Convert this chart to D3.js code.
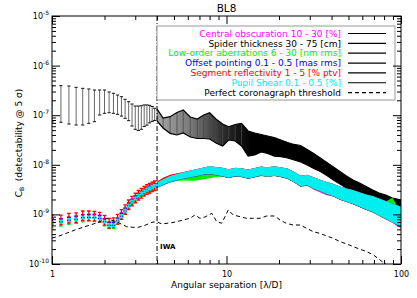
<!DOCTYPE html>
<html>
<head>
<meta charset="utf-8">
<script src="https://cdn.jsdelivr.net/npm/d3@7"></script>
<style>
  body { margin: 0; background: #fff; }
  svg { display: block; font-family: "DejaVu Sans", Verdana, sans-serif; }
</style>
</head>
<body>
<svg width="417" height="298"></svg>
<script>
// sampling below the IWA (lambda/D)
const nearX = [1, 1.125, 1.25, 1.375, 1.5, 1.625, 1.75, 1.875, 2, 2.125, 2.25, 2.375,
  2.5, 2.625, 2.75, 2.875, 3, 3.125, 3.25, 3.375, 3.5, 3.625, 3.75, 3.875];
// coarser sampling beyond the IWA
const farX = [4, 4.33, 4.75, 5.2, 5.65, 6.2, 6.8, 7.4, 8, 8.7, 9.5, 10.3, 11.2, 12.2, 13.3,
  14.5, 15.8, 17.2, 18.8, 20.5, 22.4, 24.4, 26.6, 29, 31.6, 34.5, 37.6, 41, 44.7, 48.7,
  53.1, 57.9, 63.1, 68.8, 75, 81.8, 89.2, 95, 100];

// spider thickness: error bar limits
const spiderNearHi = [3.95e-7, 3.94e-7, 3.88e-7, 3.65e-7, 3.48e-7, 3.38e-7, 3.22e-7, 3.22e-7,
  3.22e-7, 2.94e-7, 2.76e-7, 2.55e-7, 2.36e-7, 2.09e-7, 1.87e-7, 1.68e-7, 1.53e-7, 1.53e-7,
  1.55e-7, 1.61e-7, 1.61e-7, 1.58e-7, 1.5e-7, 1.38e-7];
const spiderNearLo = [7.3e-8, 7.2e-8, 6.65e-8, 6.34e-8, 6.34e-8, 6.86e-8, 7.41e-8, 1.01e-7,
  1.09e-7, 1.12e-7, 1.09e-7, 1.04e-7, 9.6e-8, 8.65e-8, 7.76e-8, 6.05e-8, 5.19e-8, 4.9e-8,
  5.2e-8, 5.9e-8, 6.3e-8, 7.0e-8, 7.5e-8, 7.8e-8];
const spiderFarHi = [1.33e-7, 8.79e-8, 9.33e-8, 1.13e-7, 1.27e-7, 9.2e-8, 8.38e-8, 1.01e-7,
  1.12e-7, 8.38e-8, 6.65e-8, 5.86e-8, 6.49e-8, 6.87e-8, 4.8e-8, 4.38e-8, 4.08e-8, 3.81e-8,
  3.55e-8, 3.16e-8, 2.82e-8, 2.57e-8, 2.45e-8, 2.03e-8, 1.69e-8, 1.37e-8, 1.11e-8, 9.03e-9,
  7.33e-9, 5.95e-9, 4.94e-9, 4.3e-9, 3.65e-9, 3.1e-9, 2.7e-9, 2.46e-9, 2.14e-9, 2.04e-9, 1.95e-9];
const spiderFarLo = [7.64e-8, 5.52e-8, 4.31e-8, 3.99e-8, 4.38e-8, 3.63e-8, 3.39e-8, 3.39e-8,
  3.31e-8, 2.75e-8, 2.39e-8, 3.16e-8, 3.02e-8, 2.39e-8, 1.5e-8, 1.58e-8, 1.81e-8, 1.69e-8,
  1.5e-8, 1.46e-8, 1.37e-8, 1.25e-8, 1.14e-8, 9.9e-9, 8.42e-9, 7.33e-9, 6.09e-9, 4.94e-9,
  4.1e-9, 3.41e-9, 2.96e-9, 2.7e-9, 2.46e-9, 2.14e-9, 1.95e-9, 1.78e-9, 1.58e-9, 1.55e-9, 1.48e-9];

// the other five errors: central values
const obscNear = [7.71e-10, 7.71e-10, 8.33e-10, 8.73e-10, 9.29e-10, 9.43e-10, 9.43e-10, 9.0e-10,
  7.71e-10, 6.61e-10, 6.61e-10, 7.96e-10, 1.0e-9, 1.26e-9, 1.6e-9, 1.89e-9, 2.21e-9, 2.5e-9,
  2.74e-9, 3.01e-9, 3.25e-9, 3.46e-9, 3.68e-9, 3.86e-9];
const lowOrderNear = [5.83e-10, 6.31e-10, 6.81e-10, 7.14e-10, 7.71e-10, 7.96e-10, 7.96e-10,
  7.48e-10, 6.4e-10, 5.65e-10, 5.65e-10, 6.81e-10, 8.73e-10, 1.14e-9, 1.43e-9, 1.72e-9, 2.01e-9,
  2.28e-9, 2.54e-9, 2.79e-9, 3.01e-9, 3.2e-9, 3.41e-9, 3.57e-9];
const pointingNear = [7.5e-10, 7.55e-10, 8.15e-10, 8.55e-10, 9.1e-10, 9.2e-10, 9.2e-10, 8.8e-10,
  7.55e-10, 6.45e-10, 6.45e-10, 7.8e-10, 9.8e-10, 1.23e-9, 1.57e-9, 1.86e-9, 2.17e-9, 2.46e-9,
  2.7e-9, 2.96e-9, 3.2e-9, 3.41e-9, 3.62e-9, 3.8e-9];
const reflectNear = [7.9e-10, 7.9e-10, 8.6e-10, 8.8e-10, 9.6e-10, 9.6e-10, 9.4e-10, 9.0e-10,
  7.8e-10, 6.8e-10, 7.0e-10, 8.2e-10, 1.02e-9, 1.28e-9, 1.6e-9, 1.9e-9, 2.2e-9, 2.5e-9, 2.74e-9,
  3.0e-9, 3.25e-9, 3.46e-9, 3.68e-9, 3.86e-9];
const shearNear = [6.81e-10, 7.14e-10, 7.71e-10, 7.96e-10, 8.59e-10, 8.73e-10, 8.73e-10, 8.33e-10,
  7.14e-10, 6.11e-10, 6.02e-10, 7.48e-10, 9.29e-10, 1.19e-9, 1.5e-9, 1.81e-9, 2.11e-9, 2.39e-9,
  2.66e-9, 2.92e-9, 3.15e-9, 3.36e-9, 3.57e-9, 3.74e-9];

const obscFar = [3.86e-9, 4.43e-9, 5.1e-9, 5.6e-9, 6.0e-9, 6.43e-9, 6.9e-9, 7.39e-9, 7.73e-9,
  7.39e-9, 7.05e-9, 6.58e-9, 7.05e-9, 6.9e-9, 6.43e-9, 6.9e-9, 7.39e-9, 7.05e-9, 7.39e-9, 7.05e-9,
  6.58e-9, 5.6e-9, 4.64e-9, 4.87e-9, 4.1e-9, 3.6e-9, 3.2e-9, 3.05e-9, 2.66e-9, 2.42e-9, 2.2e-9,
  1.97e-9, 1.75e-9, 1.6e-9, 1.39e-9, 1.21e-9, 1.05e-9, 9.2e-10, 8.4e-10];
const lowOrderFar = [3.85e-9, 4.4e-9, 5.05e-9, 5.4e-9, 5.6e-9, 5.6e-9, 5.7e-9, 6.0e-9, 6.4e-9,
  6.8e-9, 7.0e-9, 6.55e-9, 7.0e-9, 6.85e-9, 6.4e-9, 6.85e-9, 7.35e-9, 7.0e-9, 7.35e-9, 7.0e-9,
  6.55e-9, 5.57e-9, 4.62e-9, 4.84e-9, 4.2e-9, 3.75e-9, 3.34e-9, 3.04e-9, 2.65e-9, 2.41e-9, 2.2e-9,
  1.96e-9, 1.74e-9, 1.59e-9, 1.38e-9, 1.2e-9, 1.4e-9, 9.5e-10, 8.5e-10];
const pointingFar = [3.88e-9, 4.46e-9, 5.13e-9, 5.62e-9, 6.03e-9, 6.46e-9, 6.93e-9, 7.43e-9,
  7.77e-9, 7.43e-9, 7.09e-9, 6.61e-9, 7.09e-9, 6.93e-9, 6.46e-9, 6.93e-9, 7.43e-9, 7.09e-9,
  7.43e-9, 7.09e-9, 6.61e-9, 5.62e-9, 4.66e-9, 4.89e-9, 4.26e-9, 3.79e-9, 3.38e-9, 3.07e-9,
  2.67e-9, 2.44e-9, 2.22e-9, 1.98e-9, 1.76e-9, 1.6e-9, 1.4e-9, 1.22e-9, 1.06e-9, 9.63e-10, 8.78e-10];
const reflectFar = [4.1e-9, 4.8e-9, 5.5e-9, 5.9e-9, 6.2e-9, 6.53e-9, 7.0e-9, 7.5e-9, 7.85e-9,
  7.5e-9, 7.16e-9, 6.68e-9, 7.16e-9, 7.0e-9, 6.53e-9, 7.0e-9, 7.5e-9, 7.16e-9, 7.5e-9, 7.16e-9,
  6.68e-9, 5.68e-9, 4.71e-9, 4.94e-9, 4.3e-9, 3.83e-9, 3.41e-9, 3.1e-9, 2.7e-9, 2.46e-9, 2.24e-9,
  2.0e-9, 1.78e-9, 1.62e-9, 1.41e-9, 1.23e-9, 1.07e-9, 9.73e-10, 8.87e-10];
const shearFar = [3.92e-9, 4.5e-9, 5.18e-9, 5.68e-9, 6.09e-9, 6.53e-9, 7.0e-9, 7.5e-9, 7.85e-9,
  7.5e-9, 7.16e-9, 6.68e-9, 7.16e-9, 7.0e-9, 6.53e-9, 7.0e-9, 7.5e-9, 7.16e-9, 7.5e-9, 7.16e-9,
  6.68e-9, 5.68e-9, 4.71e-9, 4.94e-9, 4.3e-9, 3.83e-9, 3.41e-9, 3.1e-9, 2.7e-9, 2.46e-9, 2.24e-9,
  2.0e-9, 1.78e-9, 1.62e-9, 1.41e-9, 1.23e-9, 1.07e-9, 9.73e-10, 8.87e-10];
// spread (multiplicative half width) of the dense error bars beyond the IWA
const farSpread = [1.12, 1.14, 1.15, 1.15, 1.16, 1.17, 1.18, 1.18, 1.2, 1.2, 1.22, 1.22, 1.22,
  1.22, 1.23, 1.23, 1.23, 1.24, 1.24, 1.25, 1.26, 1.27, 1.28, 1.28, 1.3, 1.3, 1.32, 1.33, 1.35,
  1.36, 1.38, 1.4, 1.42, 1.45, 1.48, 1.52, 1.55, 1.58, 1.6];
// relative error bars below the IWA: obscuration, low-order, pointing, reflectivity, shear
const nearErr = [0.07, 0.08, 0.07, 0.22, 0.06];

// perfect coronagraph threshold
const threshX = [1, 1.08, 1.21, 1.35, 1.5, 1.69, 1.88, 2.06, 2.18, 2.35, 2.49, 2.68, 2.91, 3.11,
  3.32, 3.5, 3.74, 4, 4.16, 4.33, 4.56, 4.75, 5.2, 5.63, 6.18, 6.6, 7.05, 7.53, 8.24, 8.79, 9.39,
  10.24, 10.94, 11.95, 13.06, 14.26, 15.58, 17, 18.9, 20.26, 22, 24.1, 26.4, 28.8, 31.4, 34.2,
  37.5, 40.9, 44.8, 48.9, 53.4, 58.3, 63.7, 69.6, 75.9, 82.9, 90, 100];
const threshY = [3.34e-10, 3.58e-10, 4.16e-10, 4.84e-10, 5.49e-10, 6.25e-10, 7.13e-10, 8.34e-10,
  7.71e-10, 7.13e-10, 6.4e-10, 5.65e-10, 5.49e-10, 5.49e-10, 5.83e-10, 6.25e-10, 6.93e-10,
  7.13e-10, 6.62e-10, 6.46e-10, 6.62e-10, 6.71e-10, 7.13e-10, 7.71e-10, 8.34e-10, 9.73e-10,
  8.34e-10, 8.87e-10, 1.05e-9, 7.13e-10, 6.62e-10, 1.23e-9, 9.73e-10, 9.0e-10, 8.34e-10,
  8.34e-10, 8.34e-10, 9.29e-10, 9.29e-10, 7.71e-10, 6.62e-10, 6.11e-10, 6.11e-10, 5.25e-10,
  4.48e-10, 4.16e-10, 3.67e-10, 3.3e-10, 2.82e-10, 2.53e-10, 2.23e-10, 1.98e-10, 1.77e-10,
  1.52e-10, 1.2e-10, 9.55e-11, 8e-11, 6e-11];

const legendLabels = ['Central obscuration 10 - 30 [%]', 'Spider thickness 30 - 75 [cm]',
  'Low-order aberrations 6 - 30 [nm rms]', 'Offset pointing 0.1 - 0.5 [mas rms]',
  'Segment reflectivity 1 - 5 [% ptv]', 'Pupil Shear 0.1 - 0.5 [%]',
  'Perfect coronagraph threshold'];
const legendColors = ['#ff00ff', '#000000', '#00ee00', '#0000ff', '#ff0000', '#00eeee', '#000000'];
const iwa = 4;

const L = 52, R = 401, T = 16, B = 264;
const svg = d3.select('svg');
const x = d3.scaleLog().domain([1, 100]).range([L, R]);
const y = d3.scaleLog().domain([1e-10, 1e-5]).range([B, T]);

const defs = svg.append('defs');
defs.append('clipPath').attr('id', 'plot-clip')
  .append('rect').attr('x', L).attr('y', T).attr('width', R - L).attr('height', B - T);
const grad = defs.append('linearGradient').attr('id', 'spider-grad')
  .attr('gradientUnits', 'userSpaceOnUse')
  .attr('x1', x(4)).attr('x2', x(14)).attr('y1', 0).attr('y2', 0);
[[0, '#a4a4a4'], [0.35, '#7a7a7a'], [0.7, '#2c2c2c'], [1, '#000']].forEach(s => {
  grad.append('stop').attr('offset', s[0]).attr('stop-color', s[1]);
});

const plot = svg.append('g').attr('clip-path', 'url(#plot-clip)');

function drawColored(near, far, err, color) {
  const g = plot.append('g');
  const pts = nearX.map((v, i) => ({ x: v, lo: near[i] * (1 - err), hi: near[i] * (1 + err) }));
  g.selectAll('path.bar').data(pts).join('path')
    .attr('class', 'bar')
    .attr('d', d => {
      const px = x(d.x), a = y(d.lo), b = y(d.hi);
      return `M${px - 1.8},${a}H${px + 1.8}M${px},${a}V${b}M${px - 1.8},${b}H${px + 1.8}`;
    })
    .attr('fill', 'none').attr('stroke', color).attr('stroke-width', 1.3);
  const band = farX.map((v, i) => ({ x: v, lo: far[i] / farSpread[i], hi: far[i] * farSpread[i] }));
  g.append('path').datum(band)
    .attr('d', d3.area().x(d => x(d.x)).y0(d => y(d.lo)).y1(d => y(d.hi)))
    .attr('fill', color);
}

function drawSpider() {
  const g = plot.append('g');
  const pts = nearX.map((v, i) => ({ x: v, lo: spiderNearLo[i], hi: spiderNearHi[i] }));
  g.selectAll('line.bar').data(pts).join('line')
    .attr('class', 'bar')
    .attr('x1', d => x(d.x)).attr('x2', d => x(d.x))
    .attr('y1', d => y(d.lo)).attr('y2', d => y(d.hi))
    .attr('stroke', '#666').attr('stroke-width', 1);
  g.selectAll('path.cap').data(pts).join('path')
    .attr('class', 'cap')
    .attr('d', d => {
      const px = x(d.x);
      return `M${px - 1.6},${y(d.lo)}H${px + 1.6}M${px - 1.6},${y(d.hi)}H${px + 1.6}`;
    })
    .attr('stroke', '#111').attr('stroke-width', 1);
  const band = farX.map((v, i) => ({ x: v, lo: spiderFarLo[i], hi: spiderFarHi[i] }));
  g.append('path').datum(band)
    .attr('d', d3.area().x(d => x(d.x)).y0(d => y(d.lo)).y1(d => y(d.hi)))
    .attr('fill', 'url(#spider-grad)');
  // the dense bars show through as hatching where the band is still light
  g.selectAll('line.fbar').data(band.filter(d => d.x < 13)).join('line')
    .attr('class', 'fbar')
    .attr('x1', d => x(d.x)).attr('x2', d => x(d.x))
    .attr('y1', d => y(d.lo)).attr('y2', d => y(d.hi))
    .attr('stroke', '#4a4a4a').attr('stroke-width', 0.8);
  ['lo', 'hi'].forEach(k => {
    g.append('path').datum(band)
      .attr('d', d3.line().x(d => x(d.x)).y(d => y(d[k])))
      .attr('fill', 'none').attr('stroke', '#000').attr('stroke-width', 1.2);
  });
}

// same order as the legend
drawColored(obscNear, obscFar, nearErr[0], legendColors[0]);
drawSpider();
drawColored(lowOrderNear, lowOrderFar, nearErr[1], legendColors[2]);
drawColored(pointingNear, pointingFar, nearErr[2], legendColors[3]);
drawColored(reflectNear, reflectFar, nearErr[3], legendColors[4]);
drawColored(shearNear, shearFar, nearErr[4], legendColors[5]);

plot.append('path')
  .datum(threshX.map((v, i) => [v, threshY[i]]))
  .attr('d', d3.line().x(d => x(d[0])).y(d => y(d[1])))
  .attr('fill', 'none').attr('stroke', '#000').attr('stroke-width', 1)
  .attr('stroke-dasharray', '4,3');

// inner working angle
svg.append('line')
  .attr('x1', x(iwa)).attr('x2', x(iwa)).attr('y1', T).attr('y2', B)
  .attr('stroke', '#000').attr('stroke-width', 1).attr('stroke-dasharray', '5,2,1,2');
svg.append('text').attr('x', x(iwa) + 3).attr('y', 249)
  .attr('font-size', 7).attr('font-weight', 'bold').text('IWA');

// legend
const lg = svg.append('g');
lg.append('rect').attr('x', 157).attr('y', 26).attr('width', 238).attr('height', 74)
  .attr('fill', '#fff').attr('stroke', '#999').attr('stroke-width', 1);
legendLabels.forEach((lab, i) => {
  const ly = 33.5 + i * 9.85;
  lg.append('text').attr('x', 341).attr('y', ly + 3.2)
    .attr('text-anchor', 'end').attr('font-size', 9)
    .attr('fill', legendColors[i]).text(lab);
  lg.append('line').attr('x1', 348).attr('x2', 386).attr('y1', ly).attr('y2', ly)
    .attr('stroke', '#000').attr('stroke-width', 1.2)
    .attr('stroke-dasharray', i === 6 ? '4,3' : null);
});

// axes, ticks on all four sides pointing inwards
const xMajor = [1, 10, 100];
const xMinor = [];
[1, 10].forEach(d => { for (let k = 2; k <= 9; k++) xMinor.push(k * d); });
const yMajor = [1e-10, 1e-9, 1e-8, 1e-7, 1e-6, 1e-5];
const yMinor = [];
yMajor.slice(0, -1).forEach(d => { for (let k = 2; k <= 9; k++) yMinor.push(k * d); });

function axis(gen, tr, vals, size, fmt) {
  const g = svg.append('g').attr('transform', tr)
    .call(gen.tickValues(vals).tickSize(-size).tickSizeOuter(0).tickFormat(fmt || ''));
  g.select('.domain').remove();
  g.selectAll('line').attr('stroke', '#000');
  g.attr('font-family', null).attr('font-size', null);
  return g;
}
axis(d3.axisBottom(x), `translate(0,${B})`, xMinor, 4);
axis(d3.axisTop(x), `translate(0,${T})`, xMinor, 4);
axis(d3.axisTop(x), `translate(0,${T})`, xMajor, 8);
const xb = axis(d3.axisBottom(x).tickPadding(7), `translate(0,${B})`, xMajor, 8, d3.format('d'));
xb.selectAll('text').attr('font-size', 8).attr('fill', '#000');
axis(d3.axisLeft(y), `translate(${L},0)`, yMinor, 4);
axis(d3.axisLeft(y), `translate(${L},0)`, yMajor, 8);
axis(d3.axisRight(y), `translate(${R},0)`, yMinor, 4);
axis(d3.axisRight(y), `translate(${R},0)`, yMajor, 8);

yMajor.forEach(v => {
  const t = svg.append('text').attr('x', L - 3).attr('y', y(v) + 3)
    .attr('text-anchor', 'end').attr('font-size', 8);
  t.append('tspan').text('10');
  t.append('tspan').attr('dy', -4).attr('font-size', 6).text(Math.round(Math.log10(v)));
});

svg.append('rect').attr('x', L).attr('y', T).attr('width', R - L).attr('height', B - T)
  .attr('fill', 'none').attr('stroke', '#000').attr('stroke-width', 1);

// titles
svg.append('text').attr('x', (L + R) / 2).attr('y', 12).attr('text-anchor', 'middle')
  .attr('font-size', 10.5).text('BL8');
svg.append('text').attr('x', (L + R) / 2).attr('y', 288).attr('text-anchor', 'middle')
  .attr('font-size', 9).text('Angular separation [λ/D]');
const yl = svg.append('text').attr('transform', `translate(22,${(T + B) / 2 + 3}) rotate(-90)`)
  .attr('text-anchor', 'middle').attr('font-size', 9).style('white-space', 'pre');
yl.append('tspan').text('C');
yl.append('tspan').attr('dy', 2).attr('font-size', 6).text('B');
yl.append('tspan').attr('dy', -2).text('  (detectability @ 5 σ)');
</script>
</body>
</html>
